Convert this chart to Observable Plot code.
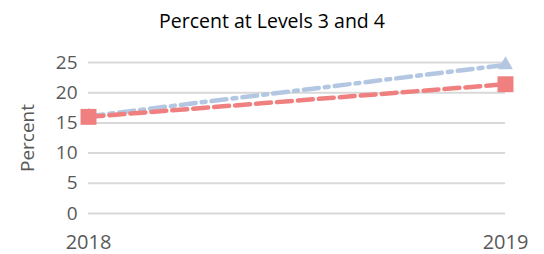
<!DOCTYPE html>
<html><head><meta charset="utf-8">
<script src="https://cdn.jsdelivr.net/npm/d3@7"></script>
<script src="https://cdn.jsdelivr.net/npm/@observablehq/plot@0.6"></script>
<style>
body{margin:0;background:#fff;font-family:"Open Sans","Noto Sans",sans-serif;}
#title{height:40px;line-height:42px;text-align:center;font-size:19.5px;color:#000;}
</style></head><body>
<div id="title">Percent at Levels 3 and 4</div>
<div id="chart"></div>
<script>
const years = ["2018", "2019"];
const seriesBlue = [16.1, 24.6];
const seriesRed = [16.0, 21.4];
const yTicks = [0, 5, 10, 15, 20, 25];

const blue = years.map((y, i) => ({year: y, value: seriesBlue[i]}));
const red = years.map((y, i) => ({year: y, value: seriesRed[i]}));

const chart = Plot.plot({
  width: 544,
  height: 214,
  marginTop: 22,
  marginBottom: 41,
  marginLeft: 88,
  marginRight: 39,
  style: {fontFamily: "'Open Sans','Noto Sans',sans-serif", fontSize: "20px", color: "#595959", background: "#fff", overflow: "visible"},
  x: {type: "point", domain: years, padding: 0},
  y: {domain: [0, 25]},
  marks: [
    Plot.ruleY(yTicks, {stroke: "#d9d9d9", strokeWidth: 2}),
    Plot.axisX({tickSize: 0, tickPadding: 21, label: null, fontSize: 20}),
    Plot.axisY(yTicks, {tickSize: 0, tickPadding: 11, label: "Percent", labelArrow: false, labelAnchor: "center", labelOffset: 68, fontSize: 19}),
    Plot.line(blue, {x: "year", y: "value", stroke: "#b4c7e2", strokeWidth: 4.5, strokeDasharray: "15,6,4,6"}),
    Plot.dot(blue, {x: "year", y: "value", symbol: "triangle", r: 5.5, fill: "#b4c7e2"}),
    Plot.line(red, {x: "year", y: "value", stroke: "#f08080", strokeWidth: 4.5, strokeDasharray: "15,6"}),
    Plot.dot(red, {x: "year", y: "value", symbol: "square", r: 9, fill: "#f08080"})
  ]
});
document.getElementById("chart").appendChild(chart);
</script>
</body></html>
